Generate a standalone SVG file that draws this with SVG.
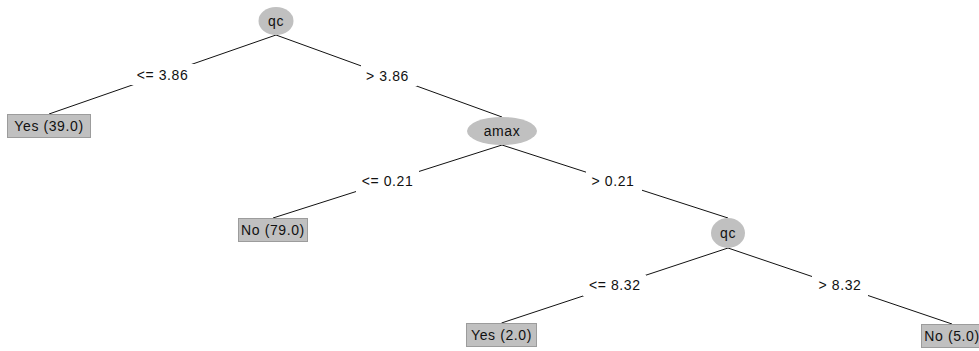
<svg xmlns="http://www.w3.org/2000/svg" width="979" height="351" viewBox="0 0 979 351">
<style>
.edge{stroke:#111;stroke-width:1;fill:none}
.lblbg{fill:#fff}
.lbl{font-family:"Liberation Sans",Arial,sans-serif;font-size:14px;letter-spacing:0.6px;fill:#111;text-anchor:middle}
.inner{fill:#c0c0c0;stroke:none}
.leaf{fill:#c0c0c0;stroke:#9c9c9c;stroke-width:1}
.txt{font-family:"Liberation Sans",Arial,sans-serif;font-size:14px;letter-spacing:0.6px;fill:#111;text-anchor:middle}
</style>
<rect width="979" height="351" fill="#fff"/>
<g id="connectors">
<line class="edge" x1="276" y1="35" x2="49" y2="114"/>
<line class="edge" x1="276" y1="35" x2="502" y2="117"/>
<line class="edge" x1="502" y1="145" x2="273" y2="218"/>
<line class="edge" x1="502" y1="145" x2="728" y2="218"/>
<line class="edge" x1="728" y1="248" x2="501.5" y2="323"/>
<line class="edge" x1="728" y1="248" x2="952" y2="324"/>
<rect class="lblbg" x="131" y="64" width="63" height="21"/>
<text class="lbl" x="162.5" y="79.5">&lt;= 3.86</text>
<rect class="lblbg" x="361" y="65" width="56" height="21"/>
<text class="lbl" x="387.5" y="80.5">&gt; 3.86</text>
<rect class="lblbg" x="356" y="171" width="63" height="21"/>
<text class="lbl" x="387.5" y="186">&lt;= 0.21</text>
<rect class="lblbg" x="586" y="171" width="56" height="21"/>
<text class="lbl" x="613" y="186">&gt; 0.21</text>
<rect class="lblbg" x="583" y="275" width="63" height="21"/>
<text class="lbl" x="614.75" y="290">&lt;= 8.32</text>
<rect class="lblbg" x="812" y="275" width="56" height="21"/>
<text class="lbl" x="840" y="290">&gt; 8.32</text>
</g>
<g id="n0">
<ellipse class="inner" cx="276" cy="21" rx="17.5" ry="14"/>
<text class="txt" x="276" y="26">qc</text>
</g>
<g id="n1">
<rect class="leaf" x="7.5" y="114.5" width="83" height="23"/>
<text class="txt" x="49" y="131">Yes (39.0)</text>
</g>
<g id="n2">
<ellipse class="inner" cx="502" cy="131" rx="35" ry="14"/>
<text class="txt" x="502" y="136">amax</text>
</g>
<g id="n3">
<rect class="leaf" x="238.5" y="218.5" width="69" height="23"/>
<text class="txt" x="273" y="235">No (79.0)</text>
</g>
<g id="n4">
<ellipse class="inner" cx="728" cy="233" rx="17" ry="15"/>
<text class="txt" x="728" y="238">qc</text>
</g>
<g id="n5">
<rect class="leaf" x="466.5" y="323.5" width="70" height="23"/>
<text class="txt" x="501.5" y="340">Yes (2.0)</text>
</g>
<g id="n6">
<rect class="leaf" x="921.5" y="324.5" width="62" height="23"/>
<text class="txt" x="952" y="341">No (5.0)</text>
</g>
</svg>
